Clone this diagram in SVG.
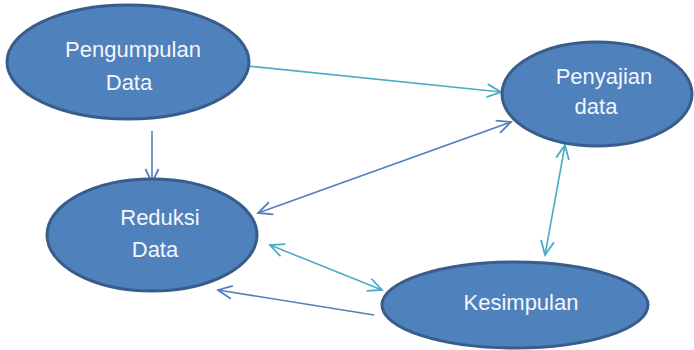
<svg xmlns="http://www.w3.org/2000/svg" width="694" height="350" viewBox="0 0 694 350">
<defs>
<style>
.node{fill:#4f81bd;stroke:#385d8a;stroke-width:3}
.lbl{font-family:"Liberation Sans",Arial,sans-serif;font-size:22px;fill:#f4f6fa;text-anchor:middle}
.teal{stroke:#4bacc6;stroke-width:1.6;fill:none}
.blue{stroke:#4f81bd;stroke-width:1.6;fill:none}
</style>
<marker id="at" viewBox="-16 -8 18 16" refX="0" refY="0" markerWidth="18" markerHeight="16" markerUnits="userSpaceOnUse" orient="auto-start-reverse">
<path d="M-14,-6.5 L0,0 L-14,6.5" fill="none" stroke="#4bacc6" stroke-width="1.8"/>
</marker>
<marker id="ab" viewBox="-16 -8 18 16" refX="0" refY="0" markerWidth="18" markerHeight="16" markerUnits="userSpaceOnUse" orient="auto-start-reverse">
<path d="M-14,-6.5 L0,0 L-14,6.5" fill="none" stroke="#4f81bd" stroke-width="1.8"/>
</marker>
</defs>
<rect width="694" height="350" fill="#ffffff"/>
<g id="connectors">
<line class="teal" x1="248" y1="66" x2="501" y2="92" marker-end="url(#at)"/>
<line class="blue" x1="152" y1="131" x2="152" y2="183" marker-end="url(#ab)"/>
<line class="blue" x1="258" y1="213" x2="511" y2="122" marker-start="url(#ab)" marker-end="url(#ab)"/>
<line class="teal" x1="565" y1="145" x2="545" y2="255" marker-start="url(#at)" marker-end="url(#at)"/>
<line class="teal" x1="270" y1="245" x2="382" y2="290" marker-start="url(#at)" marker-end="url(#at)"/>
<line class="blue" x1="374" y1="315" x2="218" y2="290" marker-end="url(#ab)"/>
</g>
<g id="pengumpulan">
<ellipse class="node" cx="128" cy="62" rx="121" ry="57"/>
<text class="lbl" x="133" y="57">Pengumpulan</text>
<text class="lbl" x="129" y="90">Data</text>
</g>
<g id="penyajian">
<ellipse class="node" cx="597" cy="94" rx="95" ry="52"/>
<text class="lbl" x="604" y="84">Penyajian</text>
<text class="lbl" x="596" y="114">data</text>
</g>
<g id="reduksi">
<ellipse class="node" cx="152" cy="235" rx="105" ry="56"/>
<text class="lbl" x="160" y="225">Reduksi</text>
<text class="lbl" x="155" y="257">Data</text>
</g>
<g id="kesimpulan">
<ellipse class="node" cx="515" cy="305" rx="133" ry="43"/>
<text class="lbl" x="521" y="310">Kesimpulan</text>
</g>
</svg>
